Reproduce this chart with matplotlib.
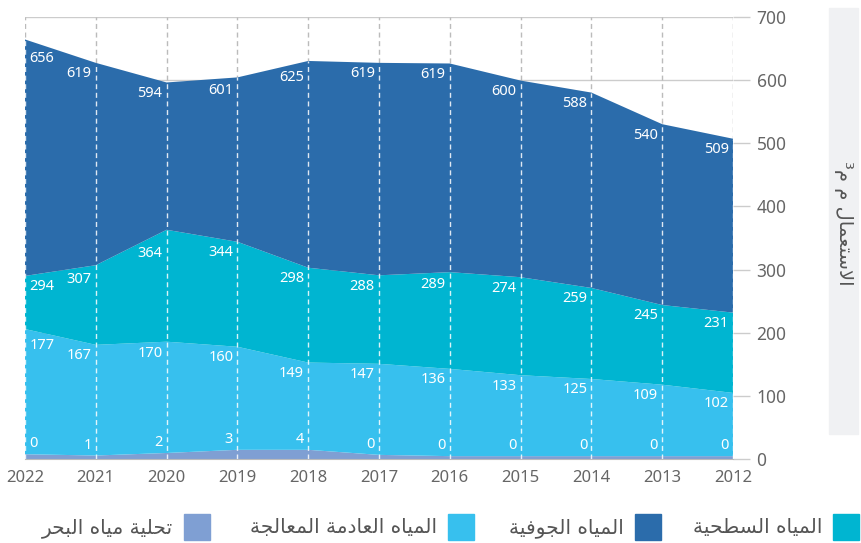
import matplotlib
matplotlib.use('Agg')
import matplotlib.pyplot as plt
from matplotlib.patches import Rectangle
import numpy as np

plt.rcParams['font.family'] = ['Noto Sans', 'DejaVu Sans']

# --- データ (読み取り値) ---
years = [2022, 2021, 2020, 2019, 2018, 2017, 2016, 2015, 2014, 2013, 2012]

# 描画されている各層の厚さ
desal = [8, 6, 10, 15, 15, 7, 5, 5, 5, 5, 5]
wastewater = [198, 175, 176, 163, 138, 144, 138, 128, 122, 113, 100]
surface = [84, 126, 177, 166, 150, 140, 153, 155, 144, 126, 127]
groundwater = [374, 320, 233, 260, 327, 336, 330, 311, 309, 286, 275]

# グラフ上に表示されている数値ラベル
lbl_desal = [0, 1, 2, 3, 4, 0, 0, 0, 0, 0, 0]
lbl_waste = [177, 167, 170, 160, 149, 147, 136, 133, 125, 109, 102]
lbl_surface = [294, 307, 364, 344, 298, 288, 289, 274, 259, 245, 231]
lbl_ground = [656, 619, 594, 601, 625, 619, 619, 600, 588, 540, 509]

name_desal = 'تحلية مياه البحر'
name_waste = 'المياه العادمة المعالجة'
name_ground = 'المياه الجوفية'
name_surface = 'المياه السطحية'
ylabel = 'الاستعمال م م³'

c_desal = '#7f9fd3'
c_waste = '#37c0ee'
c_surface = '#00b5d1'
c_ground = '#2b6cab'


# --- アラビア文字の簡易シェーピング ---
FORMS = {
    'ا': ('\uFE8D', '\uFE8E', None, None),
    'ب': ('\uFE8F', '\uFE90', '\uFE91', '\uFE92'),
    'ة': ('\uFE93', '\uFE94', None, None),
    'ت': ('\uFE95', '\uFE96', '\uFE97', '\uFE98'),
    'ج': ('\uFE9D', '\uFE9E', '\uFE9F', '\uFEA0'),
    'ح': ('\uFEA1', '\uFEA2', '\uFEA3', '\uFEA4'),
    'د': ('\uFEA9', '\uFEAA', None, None),
    'ر': ('\uFEAD', '\uFEAE', None, None),
    'س': ('\uFEB1', '\uFEB2', '\uFEB3', '\uFEB4'),
    'ط': ('\uFEC1', '\uFEC2', '\uFEC3', '\uFEC4'),
    'ع': ('\uFEC9', '\uFECA', '\uFECB', '\uFECC'),
    'ف': ('\uFED1', '\uFED2', '\uFED3', '\uFED4'),
    'ل': ('\uFEDD', '\uFEDE', '\uFEDF', '\uFEE0'),
    'م': ('\uFEE1', '\uFEE2', '\uFEE3', '\uFEE4'),
    'ه': ('\uFEE9', '\uFEEA', '\uFEEB', '\uFEEC'),
    'و': ('\uFEED', '\uFEEE', None, None),
    'ي': ('\uFEF1', '\uFEF2', '\uFEF3', '\uFEF4'),
    'لا': ('\uFEFB', '\uFEFC', None, None),
}
DUAL = set('بتجحسطعفلمهي')


def ar(text):
    tokens = []
    i = 0
    while i < len(text):
        if text[i] == 'ل' and i + 1 < len(text) and text[i + 1] == 'ا':
            tokens.append('لا')
            i += 2
        else:
            tokens.append(text[i])
            i += 1
    out = []
    for j, t in enumerate(tokens):
        if t not in FORMS:
            out.append(t)
            continue
        prev = tokens[j - 1] if j > 0 else None
        nxt = tokens[j + 1] if j + 1 < len(tokens) else None
        jp = prev in DUAL
        jn = t in DUAL and nxt in FORMS
        if jp and jn:
            k = 3
        elif jp:
            k = 1
        elif jn:
            k = 2
        else:
            k = 0
        out.append(FORMS[t][k])
    return ''.join(out[::-1])


fig = plt.figure(figsize=(8.61, 5.43), dpi=100)
ax = fig.add_axes([25 / 861, (543 - 459.3) / 543, 708 / 861, 442.6 / 543])

layers = [desal, wastewater, surface, groundwater]
colors = [c_desal, c_waste, c_surface, c_ground]
ax.stackplot(years, *layers, colors=colors, lw=0, zorder=2)

cum = np.cumsum(np.array(layers, dtype=float), axis=0)
total = cum[-1]

ax.set_xlim(2022, 2012)
ax.set_ylim(0, 700)
ax.set_yticks(range(0, 701, 100))
ax.set_xticks(years)

# グリッド線
ax.yaxis.grid(True, color='#cccccc', lw=1)
ax.set_axisbelow(True)
ax.vlines(years, 0, 700, colors='#bbbbbb', linestyles=(0, (3.6, 2.6)),
          lw=1, zorder=1)
ax.vlines(years, 0, total, colors='white', linestyles=(0, (3.6, 2.6)),
          lw=1, alpha=0.85, zorder=3)

for s in ['top', 'left', 'right']:
    ax.spines[s].set_visible(False)
ax.spines['bottom'].set_color('#bbbbbb')
ax.spines['bottom'].set_zorder(4)

ax.yaxis.tick_right()
ax.tick_params(axis='y', length=12, width=1, color='#cccccc', pad=5,
               labelsize=12.5, labelcolor='#666666')
ax.tick_params(axis='x', length=0, pad=8, labelsize=12,
               labelcolor='#666666')

# 数値ラベル
xs = np.array(years[::-1], dtype=float)


def place(vals, bound, below=True):
    b_inc = bound[::-1]
    for i, yr in enumerate(years):
        if i == 0:
            lo, hi = yr - 0.35, yr
            ha, dx = 'left', 3
        else:
            lo, hi = yr, yr + 0.35
            ha, dx = 'right', -3
        if below:
            yv = min(np.interp(lo, xs, b_inc), np.interp(hi, xs, b_inc))
            va, dy = 'top', -2.5
        else:
            yv = bound[i]
            va, dy = 'bottom', 2
        ax.annotate(str(vals[i]), (yr, yv), xytext=(dx, dy),
                    textcoords='offset points', ha=ha, va=va,
                    color='white', fontsize=10.5, zorder=5)


place(lbl_ground, cum[3])
place(lbl_surface, cum[2])
place(lbl_waste, cum[1])
place(lbl_desal, cum[0], below=False)

# Y軸ラベル (右側の灰色ボックス)
fig.patches.append(Rectangle((829 / 861, (543 - 434) / 543), 29 / 861,
                             426 / 543, transform=fig.transFigure,
                             color='#f0f1f3', zorder=0))
fig.text(843.5 / 861, (543 - 223) / 543, ar(ylabel), rotation=270,
         ha='center', va='center', fontsize=14, color='#555555',
         family='DejaVu Sans')

# 凡例 (右から左)
leg_names = [name_desal, name_waste, name_ground, name_surface]
leg_colors = [c_desal, c_waste, c_ground, c_surface]
sq_right = [210, 474, 661, 859]
for name, col, r in zip(leg_names, leg_colors, sq_right):
    fig.patches.append(Rectangle(((r - 26) / 861, (543 - 540) / 543),
                                 26 / 861, 26 / 543,
                                 transform=fig.transFigure, color=col))
    fig.text((r - 37) / 861, (543 - 528) / 543, ar(name), ha='right',
             va='center', fontsize=14.5, color='#555555',
             family='DejaVu Sans')

fig.savefig('out.png', dpi=100)
